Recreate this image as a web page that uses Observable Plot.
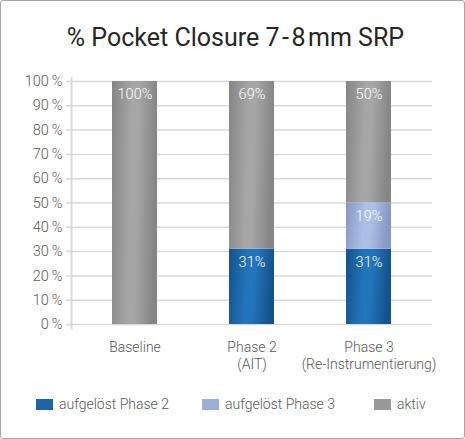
<!DOCTYPE html>
<html>
<head>
<meta charset="utf-8">
<script src="https://cdn.jsdelivr.net/npm/d3@7"></script>
<script src="https://cdn.jsdelivr.net/npm/@observablehq/plot@0.6"></script>
<style>
  html, body { margin: 0; padding: 0; background: #fff; }
  #card { position: relative; width: 463px; height: 437px; border: 1px solid #a6a6a6; border-radius: 3px; background: #fff; font-family: Roboto, "Open Sans", sans-serif; overflow: hidden; }
  #title { position: absolute; left: 3px; top: 22px; width: 100%; text-align: center; font-size: 25px; font-weight: 400; color: #262626; margin: 0; line-height: 30px; }
  #chart { position: absolute; left: 0; top: 60px; }
  .leg { position: absolute; top: 395px; font-size: 14px; font-weight: 300; color: #595959; line-height: 16px; white-space: nowrap; }
  .leg i { display: inline-block; width: 17px; height: 11px; vertical-align: -1px; margin-right: 6px; }
</style>
</head>
<body>
<div id="card">
  <div id="title">% Pocket Closure 7&#8202;-&#8202;8&#8202;mm SRP</div>
  <div id="chart"></div>
</div>
<script>
const categories = ["Baseline", "Phase 2", "Phase 3"];
const categoryLabels = ["Baseline", "Phase 2\n(AIT)", "Phase 3\n(Re-Instrumentierung)"];
const seriesNames = ["aufgelöst Phase 2", "aufgelöst Phase 3", "aktiv"];
const aufgeloestPhase2 = [0, 31, 31];
const aufgeloestPhase3 = [0, 0, 19];
const aktiv = [100, 69, 50];
const yTicks = [0, 10, 20, 30, 40, 50, 60, 70, 80, 90, 100];
const seriesColors = ["#1b65a8", "#9caed8", "#999999"];
const gradStops = [["#14528c", "#2275ba"], ["#8597c2", "#aebfe6"], ["#858585", "#a6a6a6"]];

const seriesValues = [aufgeloestPhase2, aufgeloestPhase3, aktiv];
const data = [];
categories.forEach((c, i) => {
  seriesNames.forEach((s, j) => {
    const v = seriesValues[j][i];
    if (v > 0) data.push({category: c, series: s, value: v});
  });
});

const gradIds = seriesNames.map((s, i) => "grad" + i);

const plot = Plot.plot({
  width: 463,
  height: 315,
  marginTop: 20,
  marginBottom: 52,
  marginLeft: 70,
  marginRight: 32,
  style: {fontFamily: "Roboto, sans-serif", fontSize: "14px", fontWeight: 300, color: "#595959", background: "transparent"},
  x: {domain: categories, paddingInner: 0.615, paddingOuter: 0.35, label: null},
  y: {domain: [0, 100], label: null},
  color: {domain: seriesNames, range: gradIds.map(id => `url(#${id})`)},
  marks: [
    Plot.gridY(yTicks, {stroke: "#d9d9d9", strokeOpacity: 1, strokeWidth: 1.5, insetLeft: -5}),
    Plot.frame({anchor: "left", stroke: "#d9d9d9", strokeWidth: 2, insetTop: -4, insetBottom: -4}),
    Plot.axisY(yTicks, {tickSize: 0, tickPadding: 9, tickFormat: d => d + "\u2009%", fill: "#595959", fontSize: 14.5, fontWeight: 300}),
    Plot.axisX({tickSize: 0, tickPadding: 15, tickFormat: d => categoryLabels[categories.indexOf(d)], fill: "#595959", fontSize: 14, fontWeight: 300, lineHeight: 1.22}),
    Plot.barY(data, Plot.stackY({x: "category", y: "value", fill: "series", order: seriesNames})),
    Plot.text(data, Plot.stackY2({x: "category", y: "value", z: "series", order: seriesNames, text: d => d.value + "%", fill: "white", fontSize: 14.5, fontWeight: 300, dy: 13}))
  ]
});

// add gradient defs
const ns = "http://www.w3.org/2000/svg";
const defs = document.createElementNS(ns, "defs");
gradStops.forEach((st, i) => {
  const g = document.createElementNS(ns, "linearGradient");
  g.setAttribute("id", gradIds[i]);
  g.setAttribute("x1", "0"); g.setAttribute("y1", "0");
  g.setAttribute("x2", "1"); g.setAttribute("y2", "0.12");
  [[0, st[0]], [0.45, st[1]], [0.6, st[1]], [1, st[0]]].forEach(([o, c]) => {
    const s = document.createElementNS(ns, "stop");
    s.setAttribute("offset", o);
    s.setAttribute("stop-color", c);
    g.appendChild(s);
  });
  defs.appendChild(g);
});
plot.insertBefore(defs, plot.firstChild);
document.getElementById("chart").appendChild(plot);

// legend
const legendX = [36, 202, 374];
const card = document.getElementById("card");
seriesNames.forEach((s, i) => {
  const el = document.createElement("div");
  el.className = "leg";
  el.style.left = (legendX[i] - 1) + "px";
  const sw = document.createElement("i");
  sw.style.background = seriesColors[i];
  el.appendChild(sw);
  el.appendChild(document.createTextNode(s));
  card.appendChild(el);
});
</script>
</body>
</html>
